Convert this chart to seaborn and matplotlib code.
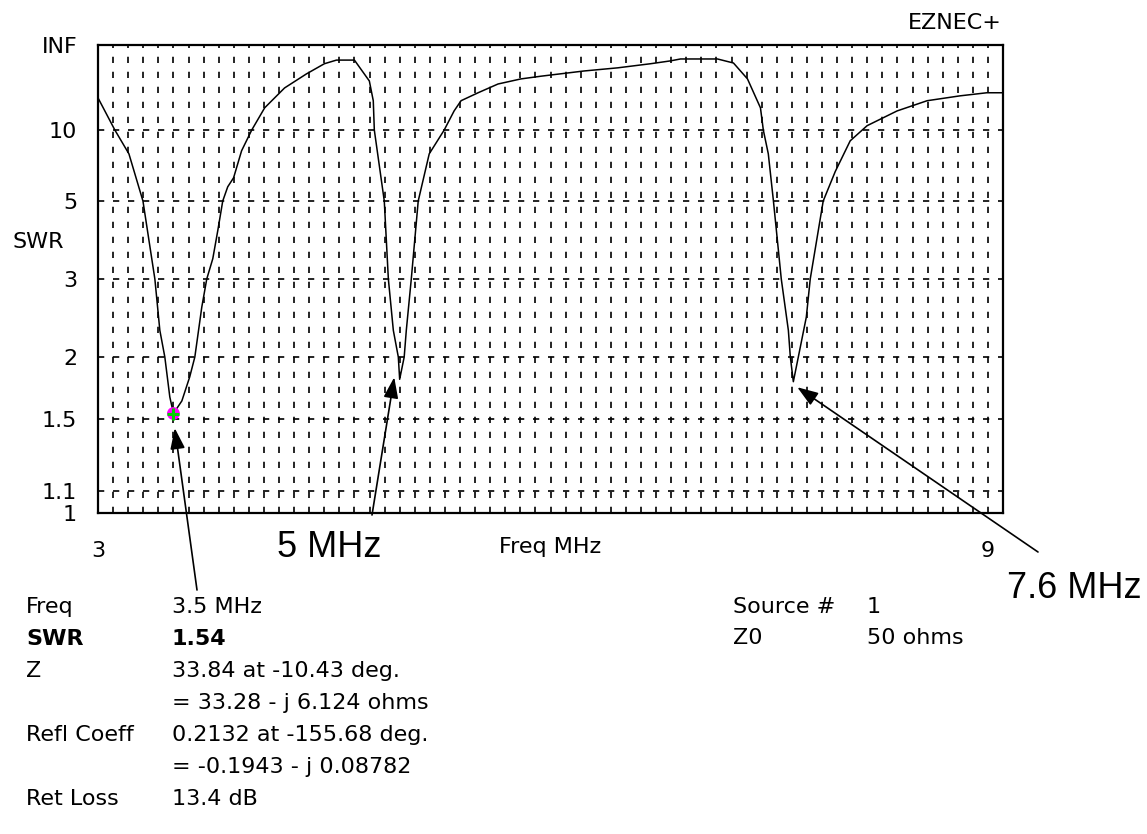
import numpy as np
import matplotlib
matplotlib.use('Agg')
import matplotlib.pyplot as plt
import matplotlib.transforms as mtransforms
import seaborn as sns

# SWR sweep (freq in MHz)
freq_mhz = [3.0, 3.112, 3.205, 3.298, 3.377, 3.41, 3.443, 3.476, 3.5,
            3.556, 3.608, 3.642, 3.688, 3.721, 3.761, 3.794, 3.827, 3.86, 3.899, 3.952,
            4.019, 4.105, 4.237, 4.382, 4.501, 4.581, 4.70, 4.799, 4.825, 4.832,
            4.898, 4.925, 4.958, 4.991, 5.0, 5.03, 5.044, 5.077, 5.123, 5.196,
            5.295, 5.361, 5.407, 5.52, 5.652, 5.804, 5.937, 6.221, 6.446, 6.664,
            6.796, 6.862, 7.107, 7.213, 7.306, 7.392, 7.411, 7.444, 7.478, 7.53,
            7.577, 7.59, 7.61, 7.643, 7.696, 7.722, 7.808, 7.888, 7.987,
            8.099, 8.298, 8.497, 8.714, 8.893, 9.0]
swr = [16.7, 10, 7.6, 5.0, 3.0, 2.28, 2.0, 1.66, 1.54,
       1.63, 1.82, 2.0, 2.57, 3.0, 3.38, 4.04, 5.0, 5.6, 6.05, 7.85,
       10, 13.9, 20.8, 31.4, 49, 61, 61, 25, 15.8, 10,
       5.0, 3.0, 2.28, 2.0, 1.8, 2.0, 2.28, 3.0, 5.0, 7.6,
       10, 13.2, 15.8, 18.6, 23, 26.6, 29, 35, 40, 49,
       58, 66, 66, 51, 26.6, 13.9, 10, 7.6, 5.0, 3.0,
       2.28, 2.0, 1.78, 2.0, 2.44, 3.0, 5.0, 6.4, 8.77,
       10.6, 13.2, 15.8, 17.4, 18.6, 18.6]

marker_freq = 3.5
marker_swr = 1.54

INF = 1e6
swr_ticks = [1, 1.1, 1.5, 2, 3, 5, 10, INF]
swr_ticklabels = ['1', '1.1', '1.5', '2', '3', '5', '10', 'INF']
freq_ticks = [3, 9]

info_left = [('Freq', '3.5 MHz'), ('SWR', '1.54'), ('Z', '33.84 at -10.43 deg.'),
             ('', '= 33.28 - j 6.124 ohms'), ('Refl Coeff', '0.2132 at -155.68 deg.'),
             ('', '= -0.1943 - j 0.08782'), ('Ret Loss', '13.4 dB')]
info_right = [('Source #', '1'), ('Z0', '50 ohms')]

# (label, arrow tip in data coords, tail pixel, text pixel)
callouts = [('', (3.509, 1.443), (197, 590), None),
            ('5 MHz', (4.964, 1.817), (372, 515), (329, 557)),
            ('7.6 MHz', (7.636, 1.735), (1038, 552), (1074, 598))]

W, H = 1147, 834


def px(x, y):
    return x / W, 1 - y / H


def fwd(s):
    s = np.asarray(s, dtype=float)
    return (s - 1) / (s + 1)


def inv(r):
    r = np.clip(np.asarray(r, dtype=float), -0.999999, 0.99999999)
    return (1 + r) / (1 - r)


sns.set_style('white')
plt.rcParams['font.family'] = ['DejaVu Sans']
plt.rcParams['lines.scale_dashes'] = False
for k in ['text.color', 'axes.labelcolor', 'xtick.color', 'ytick.color']:
    plt.rcParams[k] = 'black'

fig = plt.figure(figsize=(W / 100, H / 100), dpi=100)
l, t = px(98, 45)
r, b = px(1003, 513)
ax = fig.add_axes([l, b, r - l, t - b])

sns.lineplot(x=freq_mhz, y=swr, ax=ax, color='black', linewidth=1.1, sort=False)
sns.scatterplot(x=[marker_freq], y=[marker_swr], ax=ax, color='#ff00ff', s=85,
                edgecolor='none', zorder=5)
ax.plot([marker_freq], [marker_swr], marker='+', color='#00d000', ms=8, mew=2.2, zorder=6)

ax.set_yscale('function', functions=(fwd, inv))
ax.set_ylim(1, INF)
ax.set_xlim(3, 9)

ax.set_yticks(swr_ticks)
ax.set_yticklabels(swr_ticklabels)
ax.set_xticks(freq_ticks)
ax.set_xticklabels([str(v) for v in freq_ticks])
ax.set_xticks(np.arange(3.1, 8.95, 0.1), minor=True)
ax.set_yticks([], minor=True)
ax.tick_params(which='both', length=0, labelsize=16)
ax.tick_params(axis='y', pad=15)
ax.tick_params(axis='x', pad=20)
last = ax.xaxis.get_ticklabels()[-1]
last.set_ha('right')
last.set_transform(last.get_transform() +
                   mtransforms.ScaledTranslation(-6 / 72, 0, fig.dpi_scale_trans))

dash = (0, (4.5, 6.3))
ax.set_axisbelow(True)
ax.grid(which='minor', axis='x', color='black', linewidth=1.2, linestyle=dash)
ax.grid(which='major', axis='y', color='black', linewidth=1.2, linestyle=dash)
ax.grid(which='major', axis='x', visible=False)

for sp in ax.spines.values():
    sp.set_visible(True)
    sp.set_color('black')
    sp.set_linewidth(1.6)

ax.set_xlabel('Freq MHz', fontsize=16)
ax.xaxis.set_label_coords(0.5, -(547 - 513) / 468)
ax.xaxis.label.set_va('center')
ax.set_ylabel('')
fig.text(*px(12, 248), 'SWR', fontsize=16, ha='left', va='baseline')
fig.text(*px(1002, 29), 'EZNEC+', fontsize=16, ha='right', va='baseline')

for i, (lab, val) in enumerate(info_left):
    yb = 613 + 32 * i
    weight = 'bold' if lab == 'SWR' else 'normal'
    fig.text(*px(26, yb), lab, fontsize=16, ha='left', va='baseline', weight=weight)
    fig.text(*px(172, yb), val, fontsize=16, ha='left', va='baseline', weight=weight)
for i, (lab, val) in enumerate(info_right):
    yb = 613 + 31 * i
    fig.text(*px(733, yb), lab, fontsize=16, ha='left', va='baseline')
    fig.text(*px(867, yb), val, fontsize=16, ha='left', va='baseline')

for text, tip, tail, tpos in callouts:
    ax.annotate('', xy=tip, xycoords='data', xytext=px(*tail), textcoords='figure fraction',
                arrowprops=dict(arrowstyle='-|>,head_length=0.85,head_width=0.3',
                                mutation_scale=15, lw=1.2, color='black',
                                shrinkA=0, shrinkB=0),
                annotation_clip=False)
    if text:
        fig.text(*px(*tpos), text, fontsize=26, family=['Liberation Sans'],
                 ha='center', va='baseline')

fig.savefig('out.png', dpi=100, facecolor='white')
